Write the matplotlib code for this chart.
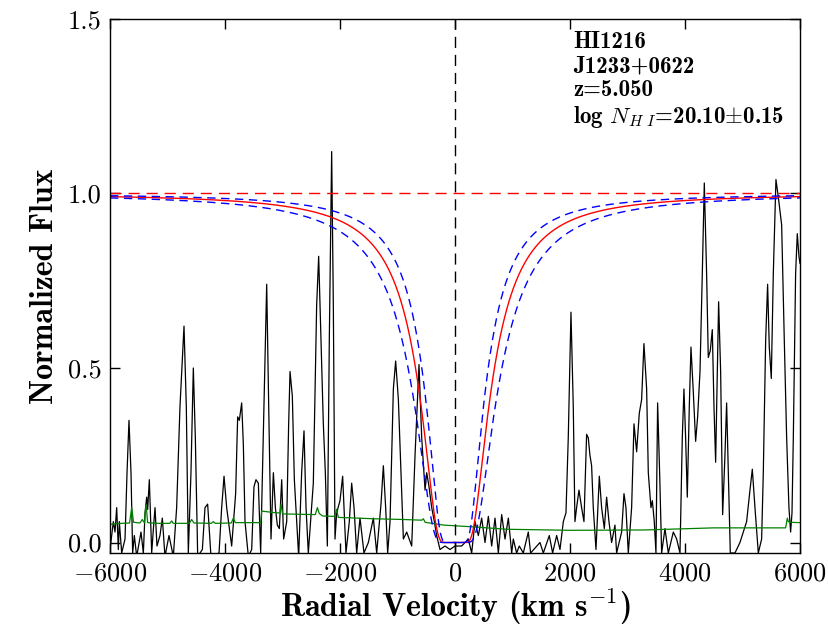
import numpy as np
import matplotlib
matplotlib.use("Agg")
import matplotlib.pyplot as plt

plt.rcParams['font.family'] = 'serif'
plt.rcParams['font.serif'] = ['cmr10']
plt.rcParams['mathtext.fontset'] = 'cm'
plt.rcParams['axes.formatter.use_mathtext'] = True

# --- observed spectrum around the absorber (velocity km/s, normalized flux)
spec_v = [-6000, -5942, -5913, -5884, -5855, -5838, -5797, -5739, -5704, -5670,
          -5635, -5606, -5577, -5536, -5461, -5420, -5391, -5362, -5345, -5316,
          -5275, -5241, -5217, -5183, -5131, -5090, -5044, -4974, -4899, -4841,
          -4783, -4713, -4673, -4638, -4592, -4551, -4516, -4475, -4394, -4348,
          -4302, -4244, -4104, -4058, -4017, -3971, -3884, -3815, -3780, -3751,
          -3710, -3681, -3652, -3594, -3536, -3496, -3461, -3420, -3380, -3322,
          -3275, -3240, -3200, -3159, -3124, -3090, -3055, -3014, -2980, -2927,
          -2893, -2869, -2829, -2794, -2754, -2719, -2667, -2626, -2591, -2551,
          -2464, -2406, -2371, -2330, -2290, -2255, -2220, -2186, -2145, -2116,
          -2087, -2058, -2000, -1954, -1896, -1838, -1797, -1756, -1710, -1652,
          -1583, -1507, -1420, -1362, -1287, -1246, -1206, -1171, -1130, -1072,
          -1032, -985, -939, -898, -840, -753, -695, -626, -579, -521,
          -492, -452, -405, -359, -319, -261, -174, -87, 0, 116,
          232, 290, 348, 406, 464, 522, 580, 638, 696, 754,
          812, 870, 928, 986, 1014, 1072, 1118, 1188, 1275, 1315,
          1478, 1536, 1640, 1698, 1768, 1826, 1884, 1930, 1970, 2017,
          2057, 2086, 2115, 2156, 2202, 2243, 2289, 2318, 2347, 2376,
          2405, 2452, 2510, 2550, 2597, 2637, 2678, 2724, 2782, 2811,
          2898, 2939, 2973, 3014, 3072, 3113, 3159, 3205, 3246, 3286,
          3333, 3362, 3408, 3432, 3466, 3495, 3524, 3559, 3594, 3652,
          3710, 3797, 3855, 3913, 3953, 3982, 4011, 4040, 4075, 4104,
          4145, 4185, 4220, 4261, 4301, 4336, 4376, 4405, 4440, 4475,
          4504, 4533, 4556, 4585, 4620, 4655, 4695, 4724, 4753, 4788,
          4869, 4956, 5014, 5072, 5130, 5171, 5217, 5275, 5333, 5362,
          5403, 5437, 5466, 5501, 5536, 5582, 5623, 5652, 5681, 5727,
          5768, 5808, 5837, 5861, 5884, 5924, 5953, 5982, 6000]
spec_f = [-0.02, 0.06, 0.03, 0.10, -0.02, 0.06, -0.03, 0.01, 0.20, 0.35,
          0.20, -0.03, 0.02, -0.04, 0.03, -0.03, 0.085, 0.13, 0.095, 0.18,
          -0.03, 0.05, 0.10, -0.01, 0.02, 0.07, -0.04, 0.02, -0.04, 0.10,
          0.39, 0.62, 0.39, -0.03, 0.20, 0.50, 0.30, -0.04, -0.02, 0.10,
          0.11, -0.04, -0.03, 0.10, 0.19, 0.10, -0.01, 0.14, 0.36, 0.35,
          0.40, 0.28, 0.06, -0.04, -0.02, 0.16, 0.18, 0.17, -0.03, 0.39,
          0.74, 0.39, 0.01, 0.20, 0.10, 0.05, 0.04, 0.18, 0.01, 0.06,
          0.34, 0.49, 0.42, 0.18, 0.06, -0.04, 0.20, 0.32, 0.10, -0.03,
          0.17, 0.68, 0.82, 0.58, 0.34, 0.20, -0.01, 0.58, 1.12, 0.68,
          0.01, 0.085, 0.12, 0.19, -0.03, 0.06, 0.17, 0.10, -0.03, 0.07,
          -0.03, 0.00, 0.07, -0.03, 0.11, 0.22, 0.10, -0.03, 0.06, 0.44,
          0.52, 0.41, 0.20, 0.01, 0.03, -0.01, 0.25, 0.51, 0.30, 0.15,
          0.20, 0.16, 0.10, 0.06, 0.02, -0.02, -0.01, -0.02, -0.01, -0.01,
          0.01, -0.03, 0.06, 0.02, 0.07, 0.00, 0.075, -0.01, 0.07, -0.03,
          0.08, 0.01, 0.07, -0.03, 0.01, -0.03, -0.01, -0.03, 0.03, -0.03,
          0.00, -0.03, 0.02, -0.03, 0.02, -0.02, 0.06, 0.085, 0.30, 0.66,
          0.39, 0.06, 0.10, 0.15, 0.10, 0.06, 0.31, 0.30, 0.25, 0.22,
          0.10, -0.02, 0.19, 0.10, 0.04, 0.13, 0.06, 0.00, 0.05, -0.03,
          0.03, 0.14, 0.10, -0.03, 0.10, 0.34, 0.26, 0.37, 0.41, 0.57,
          0.44, 0.20, 0.10, 0.12, 0.06, -0.03, 0.40, 0.20, -0.03, 0.04,
          -0.03, 0.03, 0.01, -0.03, 0.30, 0.44, 0.30, 0.13, 0.39, 0.56,
          0.43, 0.29, 0.36, 0.49, 0.77, 1.03, 0.77, 0.53, 0.55, 0.61,
          0.39, 0.23, 0.44, 0.69, 0.49, 0.08, 0.25, 0.40, 0.20, -0.03,
          -0.03, 0.00, 0.03, 0.06, 0.15, 0.21, 0.10, -0.03, 0.01, 0.20,
          0.58, 0.74, 0.56, 0.47, 0.77, 1.04, 0.99, 0.95, 0.91, 0.58,
          0.30, 0.10, 0.03, 0.085, 0.30, 0.77, 0.885, 0.82, 0.80]

# --- 1-sigma flux error
err_v = [-6000, -5800, -5660, -5623, -5590, -5480, -5438, -5400, -5374, -5345,
         -5200, -4960, -4928, -4900, -4620, -4580, -4540, -4240, -4203, -4170,
         -3890, -3855, -3820, -3380, -3362, -3100, -3044, -3026, -3000, -2430,
         -2394, -2360, -2300, -2090, -2058, -2030, -1400, -900, -579, -550,
         -520, -200, 300, 900, 2000, 3300, 4500, 5750, 5780, 5797,
         5830, 6000]
err_f = [0.052, 0.055, 0.056, 0.100, 0.058, 0.056, 0.066, 0.056, 0.110, 0.057,
         0.055, 0.055, 0.062, 0.055, 0.055, 0.066, 0.056, 0.055, 0.060, 0.055,
         0.056, 0.070, 0.057, 0.057, 0.090, 0.085, 0.085, 0.110, 0.082, 0.080,
         0.100, 0.083, 0.076, 0.075, 0.095, 0.072, 0.068, 0.066, 0.064, 0.068,
         0.058, 0.050, 0.045, 0.038, 0.035, 0.036, 0.042, 0.042, 0.070, 0.060,
         0.058, 0.057]

# --- damped Lya fit
logN = 20.10
logN_err = 0.15
z_abs = 5.050


def dla_profile(v, log_nhi):
    # Lorentzian (damping) optical depth of Lya for column density 10**log_nhi
    c = 2.998e5
    nu0 = 2.466e15
    gamma = 6.265e8
    f_osc = 0.4164
    dnu = nu0 * v / c
    sigma = 0.02654 * f_osc * (gamma / (4 * np.pi ** 2)) / (dnu ** 2 + (gamma / (4 * np.pi)) ** 2)
    return np.exp(-10 ** log_nhi * sigma)


vgrid = np.linspace(-6000, 6000, 2401)

fig = plt.figure(figsize=(8.29, 6.32), dpi=100)
ax = fig.add_axes([0.1327, 0.125, 0.8323, 0.845])

ax.plot(spec_v, spec_f, color='k', lw=0.9)
ax.plot(err_v, err_f, color='g', lw=0.9)
ax.plot(vgrid, dla_profile(vgrid, logN), color='r', lw=1.0)
ax.plot(vgrid, dla_profile(vgrid, logN - logN_err), color='b', lw=1.0, ls='--', dashes=(6, 4))
ax.plot(vgrid, dla_profile(vgrid, logN + logN_err), color='b', lw=1.0, ls='--', dashes=(6, 4))
ax.axhline(1.0005, color='r', lw=1.0, ls='--', dashes=(8, 5))
ax.axvline(0.0, color='k', lw=1.0, ls='--', dashes=(8, 5))

ax.set_xlim(-6000, 6000)
ax.set_ylim(-0.03, 1.5)
ax.set_xticks([-6000, -4000, -2000, 0, 2000, 4000, 6000])
ax.set_yticks([0.0, 0.5, 1.0, 1.5])
ax.yaxis.set_major_formatter(matplotlib.ticker.FormatStrFormatter('%.1f'))
ax.tick_params(direction='in', top=True, right=True, length=7, width=1, labelsize=19, pad=6)
for sp in ax.spines.values():
    sp.set_linewidth(1.0)

ax.set_xlabel(r'Radial Velocity (km s$^{-1}$)', fontfamily='cmb10', fontsize=23, labelpad=2)
ax.set_ylabel('Normalized Flux', fontfamily='cmb10', fontsize=23, labelpad=6)

info = 'HI1216\nJ1233+0622\nz=%.3f\nlog $N_{H\\ I}$=%.2f$\\pm$%.2f' % (z_abs, logN, logN_err)
ax.text(2050, 1.465, info, fontfamily='cmb10', fontsize=16.5, va='top', ha='left', linespacing=1.12)

fig.savefig('out.png', dpi=100)
